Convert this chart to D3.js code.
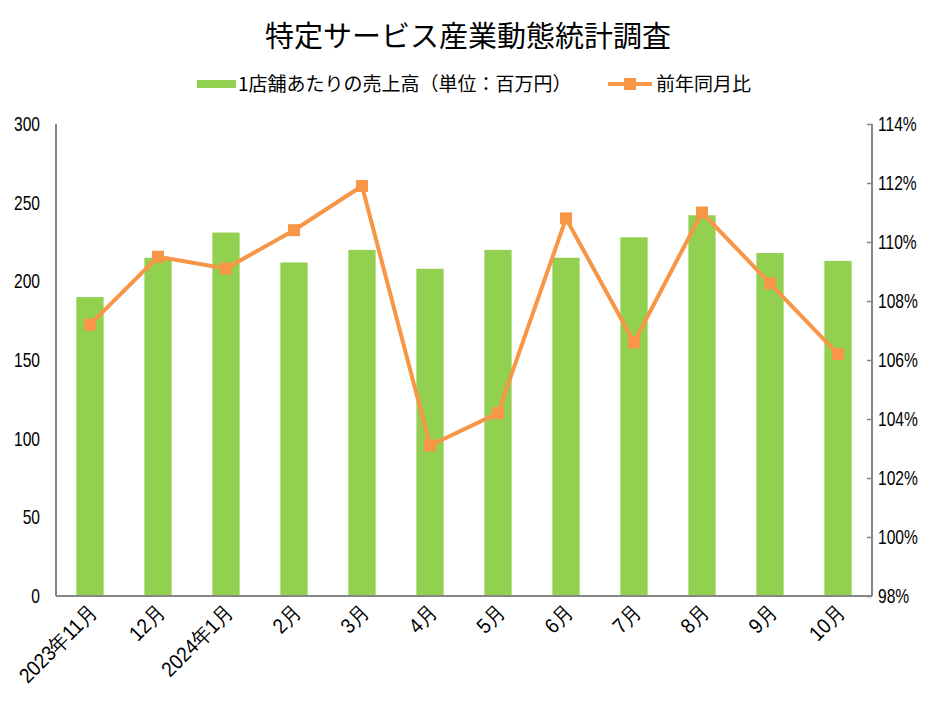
<!DOCTYPE html>
<html>
<head>
<meta charset="utf-8">
<script src="https://cdn.jsdelivr.net/npm/d3@7"></script>
<style>
  html, body { margin: 0; padding: 0; background: #fff; }
  svg { display: block; font-family: "Liberation Sans Narrow", "DejaVu Sans Condensed", "Noto Sans CJK JP", sans-serif; }
  .jp { font-family: "Noto Sans CJK JP", sans-serif; }
</style>
</head>
<body>
<div id="chart"></div>
<script>
// ---------- data ----------
const months = ['2023年11月', '12月', '2024年1月', '2月', '3月', '4月', '5月', '6月', '7月', '8月', '9月', '10月'];
const sales = [190, 215, 231, 212, 220, 208, 220, 215, 228, 242, 218, 213];
const yoy = [107.2, 109.5, 109.1, 110.4, 111.9, 103.1, 104.2, 110.8, 106.6, 111.0, 108.6, 106.2];
const leftTicks = [0, 50, 100, 150, 200, 250, 300];
const rightTicks = [98, 100, 102, 104, 106, 108, 110, 112, 114];

const W = 937, H = 703;
const m = { left: 56, right: 65, top: 124, bottom: 107 };
const green = '#92d050', orange = '#f79646', axisCol = '#868686';
const narrow = 0.78; // horizontal squeeze for the condensed-looking numbers

const svg = d3.select('#chart').append('svg').attr('width', W).attr('height', H);

const x = d3.scaleBand().domain(months).range([m.left, W - m.right]).paddingInner(0.6).paddingOuter(0.3);
const yL = d3.scaleLinear().domain([0, 300]).range([H - m.bottom, m.top]);
const yR = d3.scaleLinear().domain([98, 114]).range([H - m.bottom, m.top]);

// ---------- title + legend ----------
svg.append('text').attr('class', 'jp')
  .attr('x', 468).attr('y', 47).attr('text-anchor', 'middle')
  .attr('font-size', 29).attr('fill', '#000')
  .text('特定サービス産業動態統計調査');

const lg = svg.append('g').attr('class', 'jp').attr('font-size', 19);
lg.append('rect').attr('x', 197).attr('y', 80).attr('width', 39).attr('height', 8).attr('fill', green);
lg.append('text').attr('x', 238).attr('y', 91).text('1店舗あたりの売上高（単位：百万円）');
lg.append('line').attr('x1', 608).attr('x2', 652).attr('y1', 84).attr('y2', 84)
  .attr('stroke', orange).attr('stroke-width', 4);
lg.append('rect').attr('x', 624).attr('y', 78).attr('width', 12).attr('height', 12).attr('fill', orange);
lg.append('text').attr('x', 656).attr('y', 91).text('前年同月比');

// ---------- bars ----------
svg.append('g').selectAll('rect').data(sales).join('rect')
  .attr('x', (d, i) => x(months[i]))
  .attr('y', d => yL(d))
  .attr('width', x.bandwidth())
  .attr('height', d => yL(0) - yL(d))
  .attr('fill', green);

// ---------- axes ----------
const axL = svg.append('g').attr('transform', `translate(${m.left},0)`)
  .call(d3.axisLeft(yL).tickValues(leftTicks).tickSize(0).tickPadding(15));
const axR = svg.append('g').attr('transform', `translate(${W - m.right},0)`)
  .call(d3.axisRight(yR).tickValues(rightTicks).tickSize(-5).tickFormat(d => d + '%').tickPadding(11));
const axB = svg.append('g').attr('transform', `translate(0,${H - m.bottom})`)
  .call(d3.axisBottom(x).tickSize(0).tickPadding(0));

[axL, axR, axB].forEach(a => {
  a.select('.domain').attr('stroke', axisCol).attr('stroke-width', 2);
  a.selectAll('.tick line').attr('stroke', axisCol).attr('stroke-width', 1.5);
  a.selectAll('text').attr('font-size', 20).attr('fill', '#000');
});
axL.select('.domain').attr('d', `M0,${m.top}V${H - m.bottom}`);
axR.select('.domain').attr('d', `M0,${m.top}V${H - m.bottom}`);
axB.select('.domain').attr('d', `M${m.left},0H${W - m.right}`);

axL.selectAll('.tick text').attr('x', -16 / narrow).attr('transform', `scale(${narrow},1)`);
axR.selectAll('.tick text').attr('x', 6 / narrow).attr('transform', `scale(${narrow},1)`);

axB.selectAll('.tick text')
  .attr('font-size', 21)
  .attr('text-anchor', 'end')
  .attr('dy', 0)
  .attr('transform', 'translate(8,18) rotate(-45) scale(0.9,1)');

// ---------- line ----------
const cx = i => x(months[i]) + x.bandwidth() / 2;
svg.append('path').datum(yoy)
  .attr('fill', 'none').attr('stroke', orange).attr('stroke-width', 4).attr('stroke-linejoin', 'round')
  .attr('d', d3.line().x((d, i) => cx(i)).y(d => yR(d)));
svg.append('g').selectAll('rect').data(yoy).join('rect')
  .attr('x', (d, i) => cx(i) - 6).attr('y', d => yR(d) - 6)
  .attr('width', 12).attr('height', 12).attr('fill', orange);
</script>
</body>
</html>
